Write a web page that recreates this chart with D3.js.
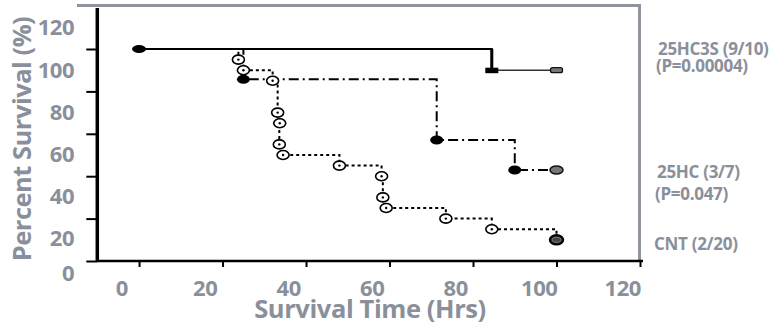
<!DOCTYPE html>
<html><head><meta charset="utf-8">
<script src="https://cdn.jsdelivr.net/npm/d3@7"></script>
<style>body{margin:0;background:#fff}svg{display:block}</style>
</head><body><svg id="c" width="774" height="325"></svg>
<script>
// ---- data ----
const yTickValues = [0, 20, 40, 60, 80, 100, 120];
const xTickValues = [0, 20, 40, 60, 80, 100, 120];
const seriesNames = ["25HC3S", "25HC", "CNT"];
// 25HC3S: [hours, percent]
const hc3sPoints = [[0, 100], [84.5, 90], [100, 90]];
// 25HC
const hcPoints = [[0, 100], [25, 85.7], [71.3, 57.1], [90, 42.9], [100, 42.9]];
// CNT (control)
const cntPoints = [[0, 100], [23.8, 95], [25, 90], [32, 85], [33.2, 70], [33.7, 65], [33.6, 55], [34.5, 50],
  [48, 45], [58.1, 40], [58.4, 30], [59.2, 25], [73.5, 20], [84.5, 15], [100, 10]];
const legendLines = [
  {text: "25HC3S (9/10)", row: 0}, {text: "(P=0.00004)", row: 1},
  {text: "25HC (3/7)", row: 2}, {text: "(P=0.047)", row: 3},
  {text: "CNT (2/20)", row: 4}];

const gray = "#8a909b";
const svg = d3.select("#c");
const x = d3.scaleLinear().domain([-10, 120]).range([97.3, 640]);
const y = d3.scaleLinear().domain([0, 120]).range([261, 6.6]);
// label positions (labels in the original are offset from their ticks)
const yLab = d3.scaleLinear().domain([0, 20, 120]).range([273, 238, 27.5]);
const xLab = d3.scaleLinear().domain([0, 120]).range([121.7, 622.7]);

// frame (gray top/right)
svg.append("line").attr("x1", 77).attr("x2", 641).attr("y1", 5.5).attr("y2", 5.5)
  .attr("stroke", "#8f959f").attr("stroke-width", 3);
svg.append("line").attr("x1", 639.5).attr("x2", 639.5).attr("y1", 4).attr("y2", 261)
  .attr("stroke", "#8f959f").attr("stroke-width", 3);

// axes
const gx = svg.append("g").attr("transform", `translate(0,${y(0)})`)
  .call(d3.axisBottom(x).tickValues(xTickValues).tickSize(6).tickSizeOuter(0).tickFormat(""));
gx.select(".domain").attr("stroke", "#000").attr("stroke-width", 2.5).attr("d", `M${x(-10)},0H${x(120)+3}`);
gx.selectAll(".tick line").attr("stroke", "#000").attr("stroke-width", 2);
const gy = svg.append("g").attr("transform", `translate(${x(-10)},0)`)
  .call(d3.axisLeft(y).tickValues(yTickValues.filter(v => v <= 100)).tickSize(11).tickSizeOuter(0).tickFormat(""));
gy.select(".domain").attr("stroke", "#000").attr("stroke-width", 3.5).attr("d", `M0,8V${y(0)+1}`);
gy.selectAll(".tick line").attr("stroke", "#000").attr("stroke-width", 2);

const font = "'Open Sans', 'Noto Sans', sans-serif";
svg.append("g").selectAll("text").data(yTickValues).join("text")
  .attr("x", 74).attr("y", d => yLab(d)).attr("dy", "0.36em").attr("text-anchor", "end")
  .attr("font-family", font).attr("font-weight", 700).attr("font-size", 22).attr("fill", gray)
  .attr("letter-spacing", -0.5)
  .text(d => d);
svg.append("g").selectAll("text").data(xTickValues).join("text")
  .attr("x", d => xLab(d)).attr("y", 296).attr("text-anchor", "middle")
  .attr("font-family", font).attr("font-weight", 700).attr("font-size", 22).attr("fill", gray)
  .attr("letter-spacing", -0.5)
  .text(d => d);

svg.append("text").attr("x", 370).attr("y", 318).attr("text-anchor", "middle")
  .attr("font-family", font).attr("font-weight", 700).attr("font-size", 25.5).attr("fill", gray)
  .attr("letter-spacing", -0.4)
  .text("Survival Time (Hrs)");
svg.append("text").attr("transform", "translate(31,139) rotate(-90)").attr("text-anchor", "middle")
  .attr("font-family", font).attr("font-weight", 700).attr("font-size", 25.5).attr("fill", gray)
  .attr("letter-spacing", -0.5)
  .text("Percent Survival (%)");

// legend text
const legY = [55, 72, 178, 200, 250];
const legX = [658, 656, 657, 655, 654];
svg.append("g").selectAll("text").data(legendLines).join("text")
  .attr("x", d => legX[d.row]).attr("y", d => legY[d.row])
  .attr("font-family", font).attr("font-weight", 700).attr("font-size", 17).attr("fill", gray)
  .attr("letter-spacing", -0.3)
  .text(d => d.text);

// lines
const step = d3.line().x(d => x(d[0])).y(d => y(d[1])).curve(d3.curveStepAfter);
// CNT dotted
svg.append("path").attr("d", step(cntPoints)).attr("fill", "none").attr("stroke", "#000")
  .attr("stroke-width", 2).attr("stroke-dasharray", "3,3");
// 25HC dash-dot
svg.append("path").attr("d", step(hcPoints)).attr("fill", "none").attr("stroke", "#000")
  .attr("stroke-width", 2).attr("stroke-dasharray", "10,4,2,4");
// 25HC3S solid
svg.append("path").attr("d", step(hc3sPoints.slice(0, 2))).attr("fill", "none").attr("stroke", "#000")
  .attr("stroke-width", 2);
svg.append("line").attr("x1", x(hc3sPoints[1][0])).attr("x2", x(hc3sPoints[1][0]))
  .attr("y1", y(hc3sPoints[0][1])).attr("y2", y(hc3sPoints[1][1])).attr("stroke", "#000").attr("stroke-width", 3);
svg.append("path").attr("d", step(hc3sPoints.slice(1))).attr("fill", "none").attr("stroke", "#333")
  .attr("stroke-width", 1.5);

// markers
const cntMid = cntPoints.slice(1, -1);
const cm = svg.append("g").selectAll("g").data(cntMid).join("g")
  .attr("transform", d => `translate(${x(d[0])},${y(d[1])})`);
cm.append("ellipse").attr("rx", 6).attr("ry", 4.5).attr("fill", "#fff").attr("stroke", "#000").attr("stroke-width", 1.6);
cm.append("circle").attr("r", 1.2).attr("fill", "#000");
const cEnd = cntPoints[cntPoints.length - 1];
svg.append("ellipse").attr("cx", x(cEnd[0])).attr("cy", y(cEnd[1])).attr("rx", 7).attr("ry", 5)
  .attr("fill", "#111").attr("stroke", "#000").attr("stroke-width", 1.5);
svg.append("ellipse").attr("cx", x(cEnd[0])).attr("cy", y(cEnd[1])).attr("rx", 4.5).attr("ry", 2.5)
  .attr("fill", "#444").attr("stroke", "#888").attr("stroke-width", 1);
svg.append("g").selectAll("ellipse").data(hcPoints.slice(1, -1)).join("ellipse")
  .attr("cx", d => x(d[0])).attr("cy", d => y(d[1])).attr("rx", 6.5).attr("ry", 4.5).attr("fill", "#000");
const hEnd = hcPoints[hcPoints.length - 1];
svg.append("ellipse").attr("cx", x(hEnd[0])).attr("cy", y(hEnd[1])).attr("rx", 6.5).attr("ry", 4)
  .attr("fill", "#777").attr("stroke", "#111").attr("stroke-width", 1.5);
svg.append("ellipse").attr("cx", x(0)).attr("cy", y(100)).attr("rx", 7).attr("ry", 4).attr("fill", "#000");
svg.append("rect").attr("x", x(hc3sPoints[1][0]) - 6.5).attr("y", y(hc3sPoints[1][1]) - 2.5)
  .attr("width", 13).attr("height", 5.5).attr("fill", "#000");
const sEnd = hc3sPoints[hc3sPoints.length - 1];
svg.append("rect").attr("x", x(sEnd[0]) - 6).attr("y", y(sEnd[1]) - 2.5).attr("width", 12).attr("height", 5)
  .attr("rx", 2).attr("fill", "#777").attr("stroke", "#111").attr("stroke-width", 1.3);
</script></body></html>
